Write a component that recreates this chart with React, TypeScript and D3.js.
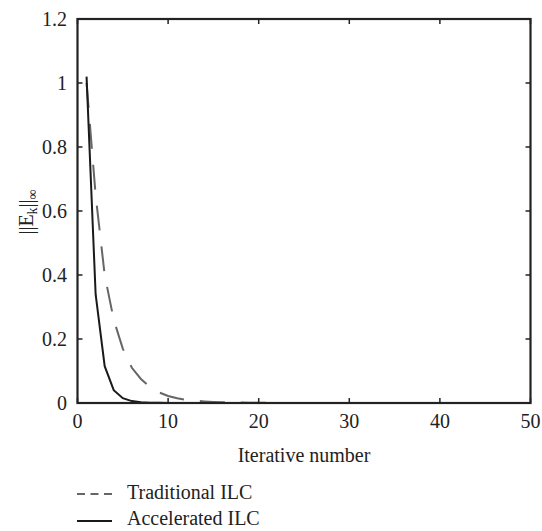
import * as d3 from "d3";

const iterations = [
  1, 2, 3, 4, 5, 6, 7, 8, 9, 10, 11, 12, 13, 14, 15, 16, 17, 18, 19, 20, 21, 22, 23, 24, 25,
  26, 27, 28, 29, 30, 31, 32, 33, 34, 35, 36, 37, 38, 39, 40, 41, 42, 43, 44, 45, 46, 47, 48, 49, 50,
];
const traditional = [
  1.0, 0.65, 0.4, 0.26, 0.17, 0.11, 0.075, 0.05, 0.033, 0.022, 0.015, 0.01, 0.007, 0.005, 0.0035,
  0.0025, 0.0018, 0.0013, 0.001, 0.0007, 0.0005, 0.0004, 0.0003, 0.0002, 0.0002, 0.0001, 0.0001,
  0.0001, 0, 0, 0, 0, 0, 0, 0, 0, 0, 0, 0, 0, 0, 0, 0, 0, 0, 0, 0, 0, 0, 0,
];
const accelerated = [
  1.02, 0.34, 0.115, 0.04, 0.015, 0.006, 0.002, 0.001, 0.0005, 0.0002, 0.0001, 0, 0, 0, 0, 0, 0,
  0, 0, 0, 0, 0, 0, 0, 0, 0, 0, 0, 0, 0, 0, 0, 0, 0, 0, 0, 0, 0, 0, 0, 0, 0, 0, 0, 0, 0, 0, 0, 0, 0,
];
const xTicks = [0, 10, 20, 30, 40, 50];
const yTicks = [0, 0.2, 0.4, 0.6, 0.8, 1, 1.2];
const legendLabels = ["Traditional ILC", "Accelerated ILC"];

const W = 542;
const H = 531;
const left = 77.5;
const right = 530.5;
const top = 19;
const bottom = 403;
const font = "'Liberation Serif', 'Times New Roman', serif";
const axisColor = "#222";
const fs = 20;

export default function App() {
  const x = d3.scaleLinear().domain([0, 50]).range([left, right]);
  const y = d3.scaleLinear().domain([0, 1.2]).range([bottom, top]);

  const line = d3
    .line<number>()
    .x((_, i) => x(iterations[i]))
    .y((d) => y(d));

  const tick = 5;

  return (
    <svg
      width={W}
      height={H}
      style={{ position: "absolute", left: 0, top: 0, background: "#fff" }}
      fontFamily={font}
    >
      {/* series */}
      <path
        d={line(traditional) ?? ""}
        fill="none"
        stroke="#666"
        strokeWidth={2}
        strokeDasharray="25 16"
      />
      <path d={line(accelerated) ?? ""} fill="none" stroke="#1a1a1a" strokeWidth={2} />

      {/* box */}
      <rect
        x={left}
        y={top}
        width={right - left}
        height={bottom - top}
        fill="none"
        stroke={axisColor}
        strokeWidth={2.2}
      />

      {xTicks.map((t) => (
        <g key={"x" + t}>
          <line x1={x(t)} x2={x(t)} y1={bottom} y2={bottom - tick} stroke={axisColor} strokeWidth={1.5} />
          <line x1={x(t)} x2={x(t)} y1={top} y2={top + tick} stroke={axisColor} strokeWidth={1.5} />
          <text x={x(t)} y={428} fontSize={fs} textAnchor="middle" fill="#222">
            {t}
          </text>
        </g>
      ))}
      {yTicks.map((t) => (
        <g key={"y" + t}>
          <line x1={left} x2={left + tick} y1={y(t)} y2={y(t)} stroke={axisColor} strokeWidth={1.5} />
          <line x1={right} x2={right - tick} y1={y(t)} y2={y(t)} stroke={axisColor} strokeWidth={1.5} />
          <text x={67} y={y(t)} dy="0.35em" fontSize={fs} textAnchor="end" fill="#222">
            {String(t)}
          </text>
        </g>
      ))}

      <text x={(left + right) / 2} y={462} fontSize={fs} textAnchor="middle" fill="#222">
        Iterative number
      </text>

      <text
        transform={`translate(33, 212) rotate(-90)`}
        fontSize={fs}
        textAnchor="middle"
        fill="#222"
      >
        ||E
        <tspan fontSize={14} dy={4}>k</tspan>
        <tspan dy={-4}>||</tspan>
        <tspan fontSize={14} dy={4}>∞</tspan>
      </text>

      {/* legend */}
      <line x1={77} x2={112} y1={494} y2={494} stroke="#666" strokeWidth={2} strokeDasharray="8 5.5" />
      <text x={127} y={498.5} fontSize={fs} fill="#222">
        {legendLabels[0]}
      </text>
      <line x1={77} x2={112} y1={521} y2={521} stroke="#1a1a1a" strokeWidth={2} />
      <text x={127} y={524.5} fontSize={fs} fill="#222">
        {legendLabels[1]}
      </text>
    </svg>
  );
}
